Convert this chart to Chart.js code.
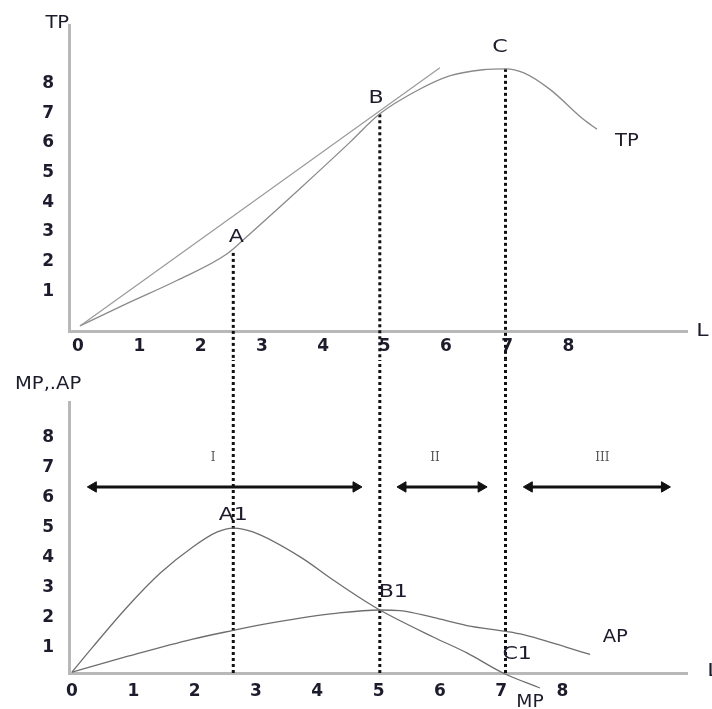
<!DOCTYPE html>
<html>
<head>
<meta charset="utf-8">
<script src="https://cdn.jsdelivr.net/npm/chart.js@4.4.1/dist/chart.umd.min.js"></script>
<style>
  html, body { margin: 0; padding: 0; background: #fff; }
  #wrap { position: relative; width: 712px; height: 709px; overflow: hidden; }
  canvas { position: absolute; left: 0; }
  #chartTP { top: 0; }
  #chartMP { top: 360px; }
</style>
</head>
<body>
<div id="wrap">
  <canvas id="chartTP" width="712" height="360"></canvas>
  <canvas id="chartMP" width="712" height="349"></canvas>
</div>
<script>
// ---- data (labour L on x, output on y) ----
const xTicks = [0, 1, 2, 3, 4, 5, 6, 7, 8];
const yTicks = [1, 2, 3, 4, 5, 6, 7, 8];

// total product
const tpX = [0.13, 0.90, 1.71, 2.53, 2.90, 3.72, 4.54, 5.01, 5.63, 6.17, 6.70, 7.08, 7.36, 7.80, 8.34, 8.56];
const tpY = [0.17, 0.93, 1.70, 2.60, 3.27, 4.80, 6.37, 7.30, 8.10, 8.60, 8.80, 8.83, 8.70, 8.13, 7.13, 6.80];

// ray from the origin, tangent at B
const rayX = [0.13, 6.00];
const rayY = [0.17, 8.87];

// marginal product
const mpX = [0.00, 0.34, 0.90, 1.44, 1.97, 2.37, 2.63, 2.95, 3.72, 4.26, 4.70, 5.02, 5.89, 6.44, 7.03, 7.63];
const mpY = [0.03, 0.87, 2.20, 3.33, 4.20, 4.70, 4.83, 4.70, 3.87, 3.10, 2.50, 2.10, 1.20, 0.67, 0.00, -0.50];

// average product
const apX = [0.00, 0.90, 1.97, 2.63, 3.07, 3.72, 4.26, 5.02, 5.35, 5.89, 6.44, 7.10, 7.31, 8.45];
const apY = [0.03, 0.55, 1.13, 1.42, 1.60, 1.83, 1.98, 2.10, 2.08, 1.85, 1.58, 1.38, 1.30, 0.62];

// points A, B, C: where the dotted drop lines fall
const dropX = [2.63, 5.02, 7.07];
const dropTopY = [2.63, 7.30, 8.83];

// stages I, II, III (arrow tips)
const stageNames = ["I", "II", "III"];
const stageFrom = [0.25, 5.30, 7.36];
const stageTo = [4.73, 6.77, 9.76];
const stageY = 6.2;
const stageLabelX = [2.30, 5.92, 8.65];

const pts = (xs, ys) => xs.map((x, i) => ({ x, y: ys[i] }));

const FONT = '"DejaVu Sans", Verdana, sans-serif';
const INK = "#1c1c2c";
const HEAD = 6;           // arrow head radius, px
const UNIT_X = 61.3;      // px per unit on x

// text labels placed at data coordinates
function textPlugin(items) {
    return {
        id: "texts",
        afterDatasetsDraw(chart) {
            const { ctx, scales: { x, y } } = chart;
            items.forEach(t => {
                const px = x.getPixelForValue(t.x);
                const py = y.getPixelForValue(t.y);
                ctx.save();
                ctx.translate(px, py);
                ctx.scale(t.sx || 1.3, 1);
                ctx.font = t.font || `17px ${FONT}`;
                ctx.fillStyle = t.color || INK;
                ctx.textAlign = t.align || "center";
                ctx.textBaseline = "middle";
                ctx.fillText(t.text, 0, 0);
                ctx.restore();
            });
        }
    };
}

function xScale(labelOffset, padding, height) {
    return {
        type: "linear",
        min: -0.049,
        max: 10.03,
        afterBuildTicks: s => { s.ticks = xTicks.map(v => ({ value: v })); },
        afterFit: s => { s.height = height; },
        grid: { display: false, drawTicks: false },
        border: { display: true, color: "#b8b8b8", width: 3 },
        ticks: { padding, labelOffset, color: INK, font: { family: FONT, size: 17, weight: "bold" } }
    };
}

function yScale(max, labelOffset) {
    return {
        type: "linear",
        min: 0,
        max,
        afterBuildTicks: s => { s.ticks = yTicks.map(v => ({ value: v })); },
        afterFit: s => { s.width = 69; },
        grid: { display: false, drawTicks: false },
        border: { display: true, color: "#b8b8b8", width: 3 },
        ticks: { padding: 15, labelOffset, color: INK, font: { family: FONT, size: 17, weight: "bold" } }
    };
}

const curve = (data, color, width) => ({
    data, borderColor: color, borderWidth: width,
    cubicInterpolationMode: "monotone",
    pointRadius: 0, fill: false, clip: false
});

const dotted = data => ({
    data, borderColor: "#111", borderWidth: 3, borderDash: [3, 3],
    pointRadius: 0, fill: false, clip: false, tension: 0
});

// ---- top panel: TP ----
const topDatasets = [
    { ...curve(pts(rayX, rayY), "#9a9a9a", 1.2), cubicInterpolationMode: "default", tension: 0 },
    curve(pts(tpX, tpY), "#8a8a8a", 1.3),
    ...dropX.map((x, i) => dotted([{ x, y: dropTopY[i] }, { x, y: -1.0 }]))
];

new Chart(document.getElementById("chartTP"), {
    type: "line",
    data: { datasets: topDatasets },
    options: {
        responsive: false,
        animation: false,
        layout: { padding: { top: 22, right: 25, left: 0, bottom: 0 } },
        plugins: { legend: { display: false }, tooltip: { enabled: false } },
        scales: { x: xScale(6, 5, 29), y: yScale(10.3, -10) }
    },
    plugins: [textPlugin([
        { text: "TP", x: -0.24, y: 10.37, sx: 1.15 },
        { text: "A", x: 2.68, y: 3.13 },
        { text: "B", x: 4.96, y: 7.83 },
        { text: "C", x: 6.98, y: 9.53 },
        { text: "TP", x: 9.05, y: 6.37, sx: 1.15 },
        { text: "L", x: 10.18, y: -0.03, align: "left" }
    ])]
});

// ---- bottom panel: MP and AP ----
const headShift = HEAD / UNIT_X;
const bottomDatasets = [
    curve(pts(mpX, mpY), "#6e6e6e", 1.3),
    curve(pts(apX, apY), "#6e6e6e", 1.3),
    ...dropX.map(x => dotted([{ x, y: 10.5 }, { x, y: 0 }])),
    ...stageNames.map((_, i) => ({
        data: [{ x: stageFrom[i] + headShift, y: stageY }, { x: stageTo[i] - headShift, y: stageY }],
        borderColor: "#111", borderWidth: 3, fill: false, clip: false,
        pointStyle: "triangle", pointRadius: HEAD, pointBackgroundColor: "#111",
        pointBorderColor: "#111", pointBorderWidth: 1, pointRotation: [-90, 90]
    }))
];

new Chart(document.getElementById("chartMP"), {
    type: "line",
    data: { datasets: bottomDatasets },
    options: {
        responsive: false,
        animation: false,
        layout: { padding: { top: 42, right: 25, left: 0, bottom: 0 } },
        plugins: { legend: { display: false }, tooltip: { enabled: false } },
        scales: { x: xScale(0, 8, 36), y: yScale(9.03, 5) }
    },
    plugins: [textPlugin([
        { text: "MP,.AP", x: -0.93, y: 9.6, align: "left", sx: 1.15 },
        { text: "A1", x: 2.63, y: 5.23 },
        { text: "B1", x: 5.24, y: 2.67 },
        { text: "C1", x: 7.26, y: 0.6 },
        { text: "AP", x: 8.86, y: 1.17, sx: 1.15 },
        { text: "MP", x: 7.47, y: -1.0, sx: 1.1 },
        { text: "L", x: 10.36, y: 0.05, align: "left" },
        ...stageNames.map((n, i) => ({
            text: n, x: stageLabelX[i], y: 7.17, sx: 1,
            font: `12px "DejaVu Serif", "Liberation Serif", serif`, color: "#555"
        }))
    ])]
});
</script>
</body>
</html>
